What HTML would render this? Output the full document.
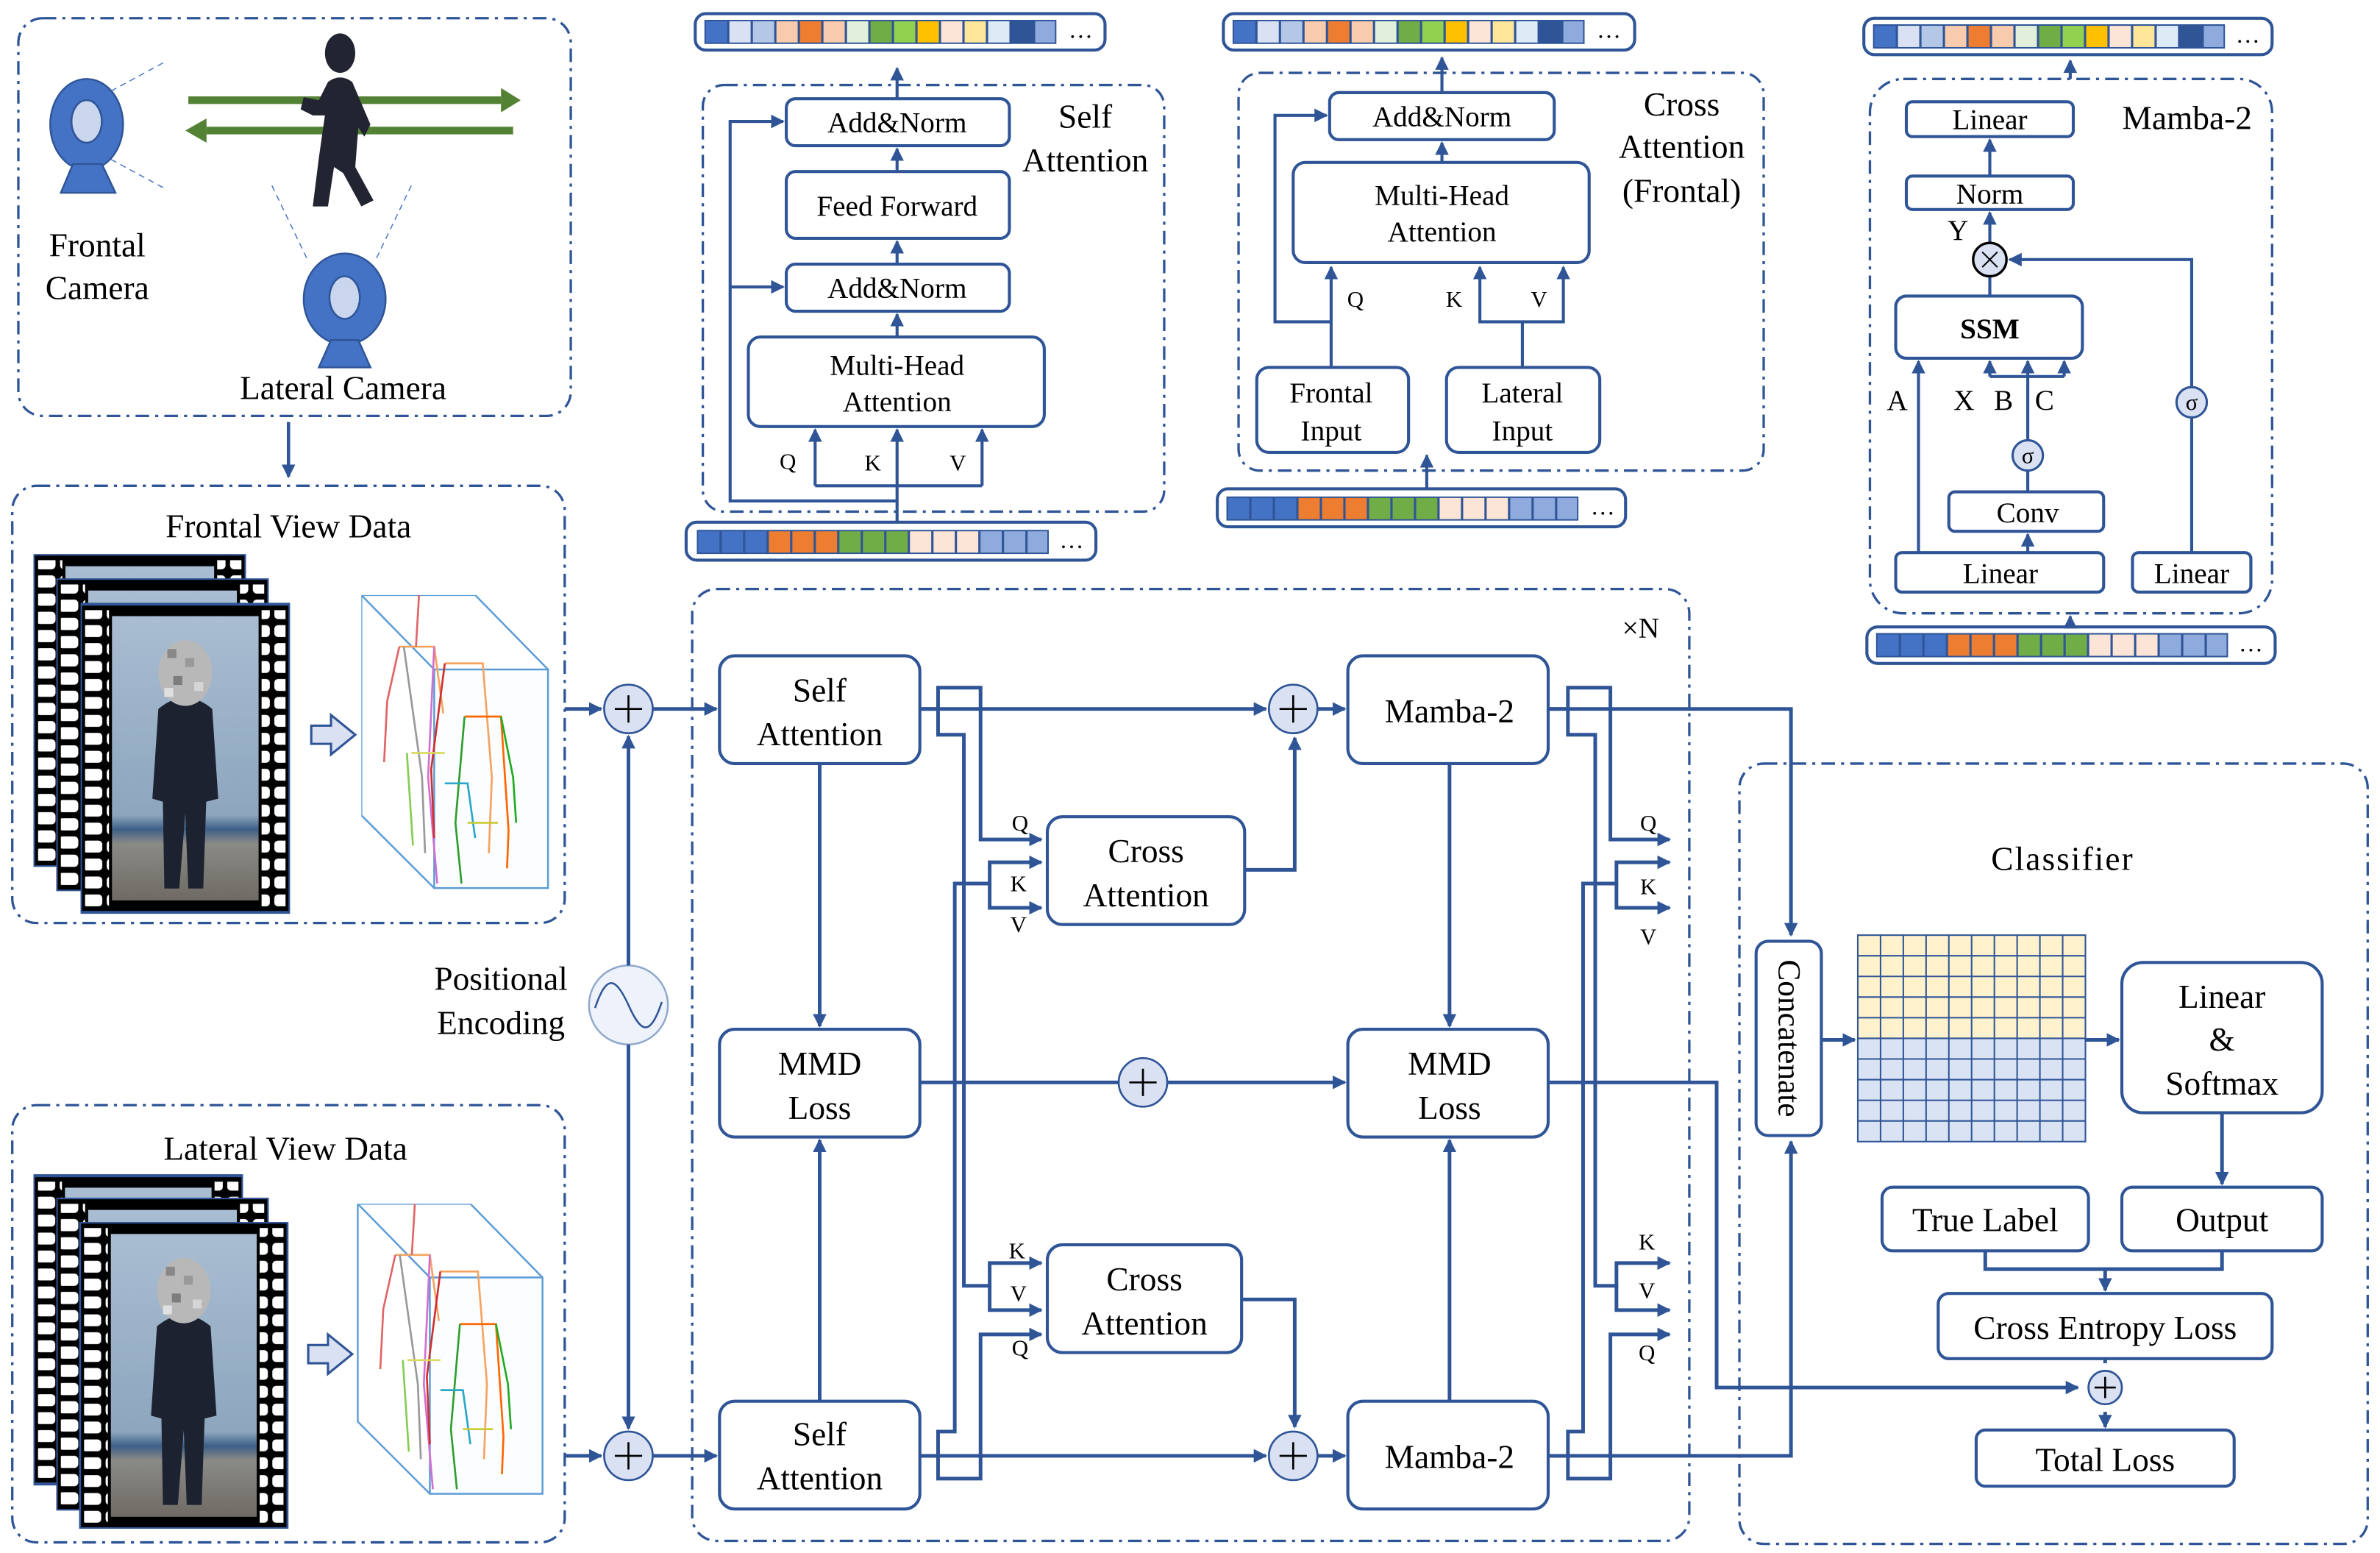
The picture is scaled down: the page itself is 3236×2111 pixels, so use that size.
<!DOCTYPE html>
<html><head><meta charset="utf-8"><style>
html,body{margin:0;padding:0;background:#fff;}
svg{display:block;font-family:"Liberation Serif","Times New Roman","DejaVu Serif",serif;}
svg text{font-family:"Liberation Serif","Times New Roman","DejaVu Serif",serif;fill:#000;}
</style></head><body>
<svg width="3236" height="2111" viewBox="0 0 1568 1023" xmlns="http://www.w3.org/2000/svg" font-family="Liberation Serif, Times New Roman, serif">
<defs>
<marker id="ar" markerWidth="9" markerHeight="9" refX="8" refY="4.5" orient="auto" markerUnits="userSpaceOnUse"><path d="M0,0 L9,4.5 L0,9 Z" fill="#2f5597"/></marker>
<pattern id="holes" x="0" y="0" width="16" height="12" patternUnits="userSpaceOnUse"><rect x="1.5" y="2" width="13" height="8" rx="2.5" fill="#fff"/></pattern>
<linearGradient id="photo" x1="0" y1="0" x2="0" y2="1"><stop offset="0" stop-color="#a9bdd2"/><stop offset="0.7" stop-color="#8da6be"/><stop offset="0.75" stop-color="#3d5f86"/><stop offset="0.8" stop-color="#8a8a86"/><stop offset="1" stop-color="#6f6a64"/></linearGradient>
<symbol id="stripA" viewBox="0 0 232 16" width="232" height="16">
<rect x="0" y="0" width="232" height="16" fill="#2f5597"/>
<rect x="1" y="1" width="14" height="14" fill="#4472c4"/><rect x="16.5" y="1" width="14" height="14" fill="#d9e1f2"/><rect x="32" y="1" width="14" height="14" fill="#b4c7e7"/><rect x="47.5" y="1" width="14" height="14" fill="#f8cbad"/><rect x="63" y="1" width="14" height="14" fill="#ed7d31"/><rect x="78.5" y="1" width="14" height="14" fill="#f8cbad"/><rect x="94" y="1" width="14" height="14" fill="#e2efda"/><rect x="109.5" y="1" width="14" height="14" fill="#70ad47"/><rect x="125" y="1" width="14" height="14" fill="#92d050"/><rect x="140.5" y="1" width="14" height="14" fill="#ffc000"/><rect x="156" y="1" width="14" height="14" fill="#fce4d6"/><rect x="171.5" y="1" width="14" height="14" fill="#ffe699"/><rect x="187" y="1" width="14" height="14" fill="#ddebf7"/><rect x="202.5" y="1" width="14" height="14" fill="#2f5597"/><rect x="218" y="1" width="13" height="14" fill="#8faadc"/>
</symbol>
<symbol id="stripB" viewBox="0 0 232 16" width="232" height="16">
<rect x="0" y="0" width="232" height="16" fill="#2f5597"/>
<rect x="1" y="1" width="14" height="14" fill="#4472c4"/><rect x="16.5" y="1" width="14" height="14" fill="#4472c4"/><rect x="32" y="1" width="14" height="14" fill="#4472c4"/><rect x="47.5" y="1" width="14" height="14" fill="#ed7d31"/><rect x="63" y="1" width="14" height="14" fill="#ed7d31"/><rect x="78.5" y="1" width="14" height="14" fill="#ed7d31"/><rect x="94" y="1" width="14" height="14" fill="#70ad47"/><rect x="109.5" y="1" width="14" height="14" fill="#70ad47"/><rect x="125" y="1" width="14" height="14" fill="#70ad47"/><rect x="140.5" y="1" width="14" height="14" fill="#fce4d6"/><rect x="156" y="1" width="14" height="14" fill="#fce4d6"/><rect x="171.5" y="1" width="14" height="14" fill="#fce4d6"/><rect x="187" y="1" width="14" height="14" fill="#8faadc"/><rect x="202.5" y="1" width="14" height="14" fill="#8faadc"/><rect x="218" y="1" width="13" height="14" fill="#8faadc"/>
</symbol>
<symbol id="frame" viewBox="0 0 140 206" width="140" height="206">
<rect x="0" y="0" width="140" height="206" fill="#000" stroke="#2f5597" stroke-width="2"/>
<rect x="3" y="4" width="16" height="198" fill="url(#holes)"/>
<rect x="121" y="4" width="16" height="198" fill="url(#holes)"/>
<rect x="21" y="8" width="98" height="190" fill="url(#photo)"/>
<path d="M52,70 Q70,55 88,70 L92,130 L84,132 L82,190 L72,190 L70,140 L66,190 L56,190 L55,132 L48,130 Z" fill="#1c2230"/>
<ellipse cx="70" cy="46" rx="18" ry="22" fill="#b8b8b8"/>
<rect x="58" y="30" width="6" height="6" fill="#888"/><rect x="70" y="36" width="6" height="6" fill="#999"/><rect x="62" y="48" width="6" height="6" fill="#7d7d7d"/><rect x="76" y="52" width="6" height="6" fill="#d5d5d5"/><rect x="56" y="56" width="6" height="6" fill="#e0e0e0"/>
</symbol>
<symbol id="cube" viewBox="0 0 124 194" width="124" height="194">
<g fill="none" stroke="#5b9bd5" stroke-width="1.2">
<rect x="48" y="49" width="75" height="144" fill="#fbfdff"/>
<path d="M0,0 L75,0 L123,49 M0,0 L48,49 M0,0 L0,145 L48,193"/>
</g>
<g stroke-width="1.3" fill="none">
<path d="M25,34 L48,34 L54,78" stroke="#f4a460"/><path d="M36,34 L38,-0" stroke="#e06666"/><path d="M25,34 L17,70 L15,110" stroke="#e06666"/>
<path d="M28,34 L40,120 L42,170" stroke="#999"/><path d="M48,34 L44,120 L50,190" stroke="#d070d0"/>
<path d="M55,45 L80,45 L86,120 L84,170" stroke="#f4a460"/><path d="M55,45 L46,115 L48,160" stroke="#d03030"/>
<path d="M68,80 L92,80 L97,155 L96,180" stroke="#ff6600"/><path d="M68,80 L62,150 L66,190" stroke="#2e9e2e"/><path d="M92,80 L100,120 L102,150" stroke="#22aa22"/>
<path d="M33,104 L55,104" stroke="#dada60"/><path d="M55,124 L70,124 L75,160" stroke="#2aa6c8"/><path d="M70,150 L90,150" stroke="#caca30"/><path d="M30,104 L34,165" stroke="#88cc55"/>
</g>
</symbol>
</defs>

<g fill="none" stroke="#2f5597" stroke-width="1.6" stroke-dasharray="9 4 2 4">
<rect x="12" y="12" width="364" height="262" rx="16"/>
<rect x="8" y="320" width="364" height="288" rx="16"/>
<rect x="8" y="728" width="364" height="288" rx="16"/>
<rect x="456" y="388" width="657" height="627" rx="16"/>
<rect x="1146" y="503" width="414" height="514" rx="16"/>
<rect x="463" y="56" width="304" height="281" rx="14"/>
<rect x="816" y="48" width="346" height="262" rx="14"/>
<rect x="1232" y="52" width="265" height="352" rx="22"/>
</g>

<g stroke="#4472c4" stroke-width="0.7" stroke-dasharray="4 3" fill="none">
<path d="M73,60 L110,40 M73,105 L110,125 M202,170 L178,120 M248,170 L272,120"/>
</g>
<path d="M124,66 H330" stroke="#548235" stroke-width="5"/><path d="M330,58 L343,66 L330,74 Z" fill="#548235"/>
<path d="M136,86 H338" stroke="#548235" stroke-width="5"/><path d="M136,78 L122,86 L136,94 Z" fill="#548235"/>
<g fill="#222531">
<ellipse cx="224" cy="35" rx="10" ry="13"/>
<path d="M216,54 Q224,48 232,54 L244,82 L240,90 L236,84 L234,110 L246,132 L238,136 L226,114 L220,110 L216,136 L206,136 L210,104 L214,76 L206,76 L198,72 L200,64 L210,66 Z"/>
</g>
<g stroke="#2f5597" stroke-width="1.2">
<ellipse cx="57" cy="82" rx="24" ry="30" fill="#4472c4"/><ellipse cx="57" cy="80" rx="10" ry="14" fill="#c9d6ee"/><path d="M48,108 L40,127 L76,127 L67,108 Z" fill="#4472c4"/>
<ellipse cx="227" cy="197" rx="27" ry="30" fill="#4472c4"/><ellipse cx="227" cy="196" rx="10" ry="14" fill="#c9d6ee"/><path d="M218,224 L210,242 L244,242 L236,224 Z" fill="#4472c4"/>
</g>
<text x="64" y="169" font-size="22" text-anchor="middle">Frontal</text>
<text x="64" y="197" font-size="22" text-anchor="middle">Camera</text>
<text x="226" y="263" font-size="22" text-anchor="middle">Lateral Camera</text>

<g stroke="#2f5597" stroke-width="2.2" fill="none">
<path d="M190,278 V314" marker-end="url(#ar)"/>
</g>

<text x="190" y="354" font-size="22" text-anchor="middle">Frontal View Data</text>
<use href="#frame" x="22" y="365" width="140" height="206"/>
<use href="#frame" x="37" y="381" width="140" height="206"/>
<use href="#frame" x="53" y="397" width="138" height="205"/>
<use href="#cube" x="238" y="392" width="124" height="194"/>
<path d="M205,478 H218 V471 L234,484 L218,497 V490 H205 Z" fill="#d9e1f2" stroke="#2f5597" stroke-width="1.5"/>

<text x="188" y="764" font-size="22" text-anchor="middle">Lateral View Data</text>
<use href="#frame" x="22" y="773" width="138" height="206"/>
<use href="#frame" x="37" y="789" width="140" height="206"/>
<use href="#frame" x="52" y="805" width="138" height="202"/>
<use href="#cube" x="235" y="793" width="124" height="192"/>
<path d="M203,886 H216 V879 L232,892 L216,905 V898 H203 Z" fill="#d9e1f2" stroke="#2f5597" stroke-width="1.5"/>

<text x="330" y="652" font-size="22" text-anchor="middle">Positional</text>
<text x="330" y="681" font-size="22" text-anchor="middle">Encoding</text>
<circle cx="414" cy="662" r="26" fill="#eef2fa" stroke="#8fa8cc" stroke-width="1.2"/>
<path d="M392,664 C400,640 406,645 414,662 C422,680 428,684 436,660" fill="none" stroke="#2f5597" stroke-width="1.2"/>

<g stroke="#2f5597" stroke-width="2.4" fill="none">
<path d="M372,467 H396" marker-end="url(#ar)"/>
<path d="M372,959 H396" marker-end="url(#ar)"/>
<path d="M414,636 V485" marker-end="url(#ar)"/>
<path d="M414,688 V941" marker-end="url(#ar)"/>
<path d="M430,467 H472" marker-end="url(#ar)"/>
<path d="M430,959 H472" marker-end="url(#ar)"/>
<path d="M606,467 H834" marker-end="url(#ar)"/>
<path d="M606,959 H834" marker-end="url(#ar)"/>
<path d="M868,467 H886" marker-end="url(#ar)"/>
<path d="M868,959 H886" marker-end="url(#ar)"/>
<path d="M540,503 V676" marker-end="url(#ar)"/>
<path d="M540,923 V751" marker-end="url(#ar)"/>
<path d="M955,503 V676" marker-end="url(#ar)"/>
<path d="M955,923 V751" marker-end="url(#ar)"/>
<path d="M606,713 H737"/>
<path d="M769,713 H886" marker-end="url(#ar)"/>
<path d="M606,467 H618 V453 H646 V553 H686" marker-end="url(#ar)"/>
<path d="M618,467 V484 H635 V847 H652 V832 H686" marker-end="url(#ar)"/>
<path d="M652,847 V863 H686" marker-end="url(#ar)"/>
<path d="M606,959 H618 V974 H646 V879 H686" marker-end="url(#ar)"/>
<path d="M618,959 V943 H629 V582 H652 V568 H686" marker-end="url(#ar)"/>
<path d="M652,582 V598 H686" marker-end="url(#ar)"/>
<path d="M820,573 H853 V486" marker-end="url(#ar)"/>
<path d="M818,856 H853 V940" marker-end="url(#ar)"/>
<path d="M1020,467 H1180 V616" marker-end="url(#ar)"/>
<path d="M1020,959 H1180 V752" marker-end="url(#ar)"/>
<path d="M1020,467 H1033 V453 H1061 V553 H1100" marker-end="url(#ar)"/>
<path d="M1033,467 V484 H1051 V847 H1065 V832 H1100" marker-end="url(#ar)"/>
<path d="M1065,847 V863 H1100" marker-end="url(#ar)"/>
<path d="M1020,959 H1033 V974 H1061 V879 H1100" marker-end="url(#ar)"/>
<path d="M1033,959 V943 H1043 V582 H1065 V568 H1100" marker-end="url(#ar)"/>
<path d="M1065,582 V598 H1100" marker-end="url(#ar)"/>
<path d="M1020,713 H1131 V914 H1369" marker-end="url(#ar)"/>
<path d="M1200,685 H1222" marker-end="url(#ar)"/>
<path d="M1374,685 H1396" marker-end="url(#ar)"/>
<path d="M1464,733 V780" marker-end="url(#ar)"/>
<path d="M1308,824 V836 H1464 V824"/>
<path d="M1387,836 V850" marker-end="url(#ar)"/>
<path d="M1387,895 V898"/>
<path d="M1387,930 V940" marker-end="url(#ar)"/>
</g>

<g fill="#d9e1f2" stroke="#2f5597" stroke-width="1.3">
<circle cx="414" cy="467" r="16"/><circle cx="414" cy="959" r="16"/>
<circle cx="852" cy="467" r="16"/><circle cx="852" cy="959" r="16"/>
<circle cx="753" cy="713" r="16"/><circle cx="1387" cy="914" r="11"/>
</g>
<g stroke="#000" stroke-width="1.3">
<path d="M405,467 H423 M414,458 V476"/><path d="M405,959 H423 M414,950 V968"/>
<path d="M843,467 H861 M852,458 V476"/><path d="M843,959 H861 M852,950 V968"/>
<path d="M744,713 H762 M753,704 V722"/><path d="M1380,914 H1394 M1387,907 V921"/>
</g>

<g fill="#fff" stroke="#2f5597" stroke-width="2">
<rect x="474" y="432" width="132" height="71" rx="10"/>
<rect x="474" y="923" width="132" height="71" rx="10"/>
<rect x="474" y="678" width="132" height="71" rx="10"/>
<rect x="888" y="678" width="132" height="71" rx="10"/>
<rect x="888" y="432" width="132" height="71" rx="10"/>
<rect x="888" y="923" width="132" height="71" rx="10"/>
<rect x="690" y="538" width="130" height="71" rx="10"/>
<rect x="690" y="820" width="128" height="71" rx="10"/>
<rect x="1157" y="620" width="43" height="128" rx="8"/>
<rect x="1398" y="634" width="132" height="99" rx="14"/>
<rect x="1240" y="782" width="136" height="42" rx="7"/>
<rect x="1398" y="782" width="132" height="42" rx="7"/>
<rect x="1277" y="852" width="220" height="43" rx="7"/>
<rect x="1302" y="942" width="170" height="37" rx="6"/>
</g>
<g font-size="22" text-anchor="middle">
<text x="540" y="462">Self</text><text x="540" y="491">Attention</text>
<text x="540" y="952">Self</text><text x="540" y="981">Attention</text>
<text x="540" y="708">MMD</text><text x="540" y="737">Loss</text>
<text x="955" y="708">MMD</text><text x="955" y="737">Loss</text>
<text x="955" y="476">Mamba-2</text><text x="955" y="967">Mamba-2</text>
<text x="755" y="568">Cross</text><text x="755" y="597">Attention</text>
<text x="754" y="850">Cross</text><text x="754" y="879">Attention</text>
<text x="1464" y="664">Linear</text><text x="1464" y="692">&amp;</text><text x="1464" y="721">Softmax</text>
<text x="1308" y="811">True Label</text><text x="1464" y="811">Output</text>
<text x="1387" y="882">Cross Entropy Loss</text><text x="1387" y="969">Total Loss</text>
<text x="1359" y="573" fill="#333" letter-spacing="1">Classifier</text>
<text x="1081" y="420" font-size="19">×N</text>
</g>
<text x="0" y="0" font-size="21" text-anchor="middle" transform="translate(1172,684) rotate(90)">Concatenate</text>
<g font-size="15" text-anchor="middle">
<text x="672" y="547">Q</text><text x="671" y="587">K</text><text x="671" y="614">V</text>
<text x="670" y="829">K</text><text x="671" y="857">V</text><text x="672" y="893">Q</text>
<text x="1086" y="547">Q</text><text x="1086" y="589">K</text><text x="1086" y="622">V</text>
<text x="1085" y="823">K</text><text x="1085" y="855">V</text><text x="1085" y="896">Q</text>
</g>

<rect x="1224" y="616" width="150" height="68" fill="#fff2cc"/>
<rect x="1224" y="684" width="150" height="68" fill="#dae3f3"/>
<g stroke="#2f5597" stroke-width="1" fill="none">
<rect x="1224" y="616" width="150" height="136"/>
<path d="M1239,616V752M1254,616V752M1269,616V752M1284,616V752M1299,616V752M1314,616V752M1329,616V752M1344,616V752M1359,616V752"/>
<path d="M1224,629.6H1374M1224,643.2H1374M1224,656.8H1374M1224,670.4H1374M1224,684H1374M1224,697.6H1374M1224,711.2H1374M1224,724.8H1374M1224,738.4H1374"/>
</g>

<g fill="#fff" stroke="#2f5597" stroke-width="2">
<rect x="458" y="9" width="270" height="24" rx="7"/>
<rect x="806" y="9" width="271" height="24" rx="7"/>
<rect x="1228" y="12" width="269" height="24" rx="7"/>
<rect x="452" y="344" width="270" height="25" rx="7"/>
<rect x="802" y="322" width="269" height="25" rx="7"/>
<rect x="1230" y="413" width="269" height="24" rx="7"/>
</g>
<use href="#stripA" x="464" y="13"/><use href="#stripA" x="812" y="13"/><use href="#stripA" x="1234" y="16"/>
<use href="#stripB" x="459" y="349"/><use href="#stripB" x="808" y="327"/><use href="#stripB" x="1236" y="417"/>
<g font-size="16" text-anchor="middle"><text x="712" y="25">…</text><text x="1060" y="25">…</text><text x="1481" y="28">…</text><text x="706" y="361">…</text><text x="1056" y="339">…</text><text x="1483" y="429">…</text></g>

<g stroke="#2f5597" stroke-width="2" fill="none">
<path d="M591,65 V45" marker-end="url(#ar)"/>
<path d="M591,113 V98" marker-end="url(#ar)"/>
<path d="M591,174 V159" marker-end="url(#ar)"/>
<path d="M591,222 V207" marker-end="url(#ar)"/>
<path d="M591,344 V283" marker-end="url(#ar)"/>
<path d="M537,320 V283" marker-end="url(#ar)"/>
<path d="M647,320 V283" marker-end="url(#ar)"/>
<path d="M537,320 H647"/>
<path d="M591,330 H481 V80 H516" marker-end="url(#ar)"/>
<path d="M481,189 H516" marker-end="url(#ar)"/>
</g>
<g fill="#fff" stroke="#2f5597" stroke-width="2">
<rect x="518" y="65" width="147" height="31" rx="6"/>
<rect x="518" y="113" width="147" height="44" rx="6"/>
<rect x="518" y="174" width="147" height="31" rx="6"/>
<rect x="493" y="222" width="195" height="59" rx="8"/>
</g>
<g font-size="19" text-anchor="middle">
<text x="591" y="87">Add&amp;Norm</text><text x="591" y="142">Feed Forward</text><text x="591" y="196">Add&amp;Norm</text>
<text x="591" y="247">Multi-Head</text><text x="591" y="271">Attention</text>
<text x="715" y="84" font-size="22">Self</text><text x="715" y="113" font-size="22">Attention</text>
<text x="519" y="309" font-size="15">Q</text><text x="575" y="310" font-size="15">K</text><text x="631" y="310" font-size="15">V</text>
</g>

<g stroke="#2f5597" stroke-width="2" fill="none">
<path d="M950,61 V38" marker-end="url(#ar)"/>
<path d="M950,107 V94" marker-end="url(#ar)"/>
<path d="M877,242 V176" marker-end="url(#ar)"/>
<path d="M877,212 H840 V76 H874" marker-end="url(#ar)"/>
<path d="M1003,242 V212 H975 V176" marker-end="url(#ar)"/>
<path d="M1003,212 H1030 V176" marker-end="url(#ar)"/>
<path d="M940,322 V300" marker-end="url(#ar)"/>
</g>
<g fill="#fff" stroke="#2f5597" stroke-width="2">
<rect x="876" y="61" width="148" height="31" rx="6"/>
<rect x="852" y="107" width="195" height="66" rx="8"/>
<rect x="828" y="242" width="100" height="56" rx="8"/>
<rect x="953" y="242" width="101" height="56" rx="8"/>
</g>
<g font-size="19" text-anchor="middle">
<text x="950" y="83">Add&amp;Norm</text>
<text x="950" y="135">Multi-Head</text><text x="950" y="159">Attention</text>
<text x="877" y="265" fill="#333">Frontal</text><text x="877" y="290">Input</text>
<text x="1003" y="265">Lateral</text><text x="1003" y="290">Input</text>
<text x="1108" y="76" font-size="22">Cross</text><text x="1108" y="104" font-size="22">Attention</text><text x="1108" y="133" font-size="22">(Frontal)</text>
<text x="893" y="202" font-size="15">Q</text><text x="958" y="202" font-size="15">K</text><text x="1014" y="202" font-size="15">V</text>
</g>

<g stroke="#2f5597" stroke-width="2" fill="none">
<path d="M1364,52 V40" marker-end="url(#ar)"/>
<path d="M1311,116 V92" marker-end="url(#ar)"/>
<path d="M1311,160 V140" marker-end="url(#ar)"/>
<path d="M1311,195 V182"/>
<path d="M1264,364 V238" marker-end="url(#ar)"/>
<path d="M1336,290 V238" marker-end="url(#ar)"/>
<path d="M1311,248 H1360"/>
<path d="M1311,248 V238" marker-end="url(#ar)"/>
<path d="M1360,248 V238" marker-end="url(#ar)"/>
<path d="M1336,324 V310"/>
<path d="M1336,364 V352" marker-end="url(#ar)"/>
<path d="M1444,364 V275"/>
<path d="M1444,255 V171 H1324" marker-end="url(#ar)"/>
<path d="M1364,413 V406" marker-end="url(#ar)"/>
</g>
<g fill="#fff" stroke="#2f5597" stroke-width="2">
<rect x="1256" y="67" width="110" height="23" rx="4"/>
<rect x="1256" y="116" width="110" height="22" rx="4"/>
<rect x="1249" y="195" width="123" height="41" rx="7"/>
<rect x="1284" y="324" width="102" height="26" rx="4"/>
<rect x="1249" y="364" width="137" height="26" rx="4"/>
<rect x="1405" y="364" width="78" height="26" rx="4"/>
</g>
<circle cx="1311" cy="171" r="11" fill="#d9e1f2" stroke="#000" stroke-width="1.6"/>
<path d="M1306,166 L1316,176 M1316,166 L1306,176" stroke="#000" stroke-width="1"/>
<circle cx="1336" cy="300" r="10" fill="#d9e1f2" stroke="#2f5597" stroke-width="1.5"/>
<circle cx="1444" cy="265" r="10" fill="#d9e1f2" stroke="#2f5597" stroke-width="1.5"/>
<g font-size="19" text-anchor="middle">
<text x="1311" y="85">Linear</text><text x="1311" y="134">Norm</text>
<text x="1311" y="223" font-weight="bold">SSM</text>
<text x="1336" y="344">Conv</text><text x="1318" y="384">Linear</text><text x="1444" y="384">Linear</text>
<text x="1441" y="85" font-size="22" fill="#333">Mamba-2</text>
<text x="1250" y="270">A</text><text x="1294" y="270">X</text><text x="1320" y="270">B</text><text x="1347" y="270">C</text>
<text x="1290" y="158">Y</text>
<text x="1336" y="305" font-size="15">σ</text><text x="1444" y="270" font-size="15">σ</text>
</g>
</svg>
</body></html>
